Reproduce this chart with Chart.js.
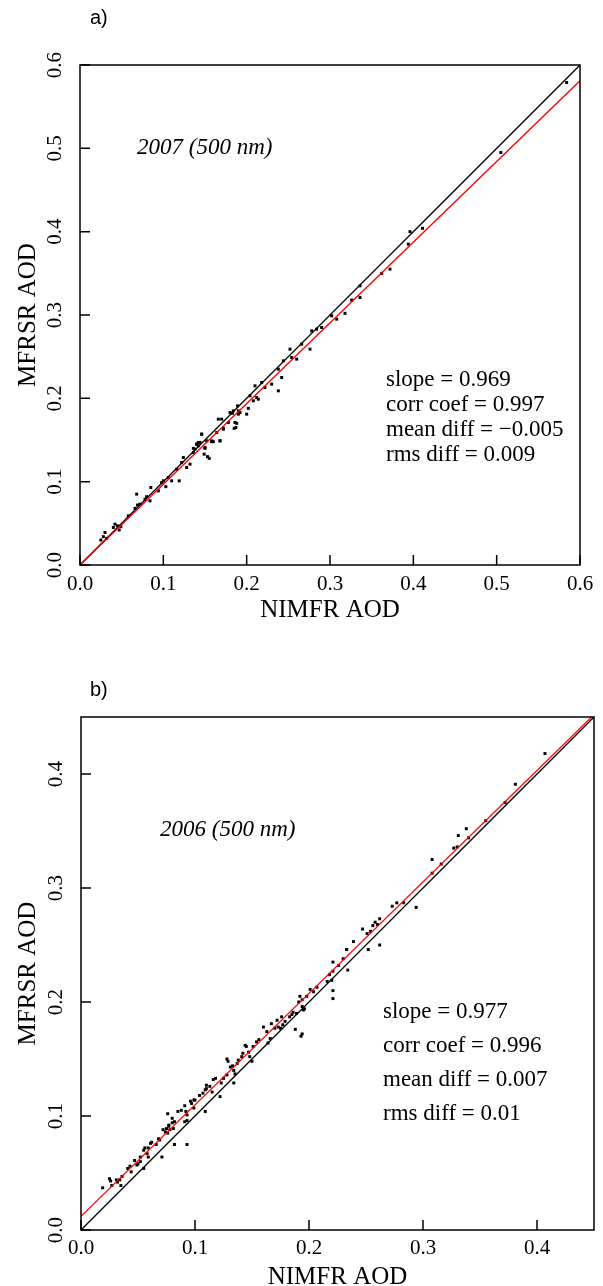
<!DOCTYPE html>
<html>
<head>
<meta charset="utf-8">
<script src="https://cdn.jsdelivr.net/npm/chart.js@4.4.1/dist/chart.umd.min.js"></script>
<style>
  html, body { margin: 0; padding: 0; background: #fff; overflow: hidden; }
  body { width: 603px; height: 1286px; position: relative; }
  canvas { position: absolute; left: 0; }
  #chartA { top: 0; }
  #chartB { top: 640px; }
</style>
</head>
<body>
<canvas id="chartA" width="603" height="650"></canvas>
<canvas id="chartB" width="603" height="660"></canvas>
<script>
// ---- panel a) 2007 (500 nm) ----
const nimfr2007 = [
    0.025, 0.028, 0.030, 0.032, 0.040, 0.042, 0.045, 0.047, 0.049, 0.058,
    0.066, 0.069, 0.072, 0.068, 0.078, 0.080, 0.084, 0.085, 0.094, 0.098,
    0.100, 0.103, 0.106, 0.110, 0.119, 0.116, 0.122, 0.124, 0.128, 0.132,
    0.136, 0.138, 0.140, 0.142, 0.146, 0.149, 0.150, 0.153, 0.155, 0.158,
    0.164, 0.168, 0.172, 0.185, 0.188, 0.183, 0.190, 0.200, 0.202, 0.166,
    0.136, 0.140, 0.142, 0.144, 0.146, 0.150, 0.152, 0.158, 0.160, 0.168,
    0.170, 0.172, 0.178, 0.180, 0.184, 0.186, 0.187, 0.189, 0.190, 0.192,
    0.204, 0.208, 0.210, 0.212, 0.214, 0.218, 0.222, 0.230, 0.238, 0.238,
    0.242, 0.244, 0.252, 0.254, 0.260, 0.266, 0.276, 0.278, 0.284, 0.290,
    0.302, 0.308, 0.318, 0.326, 0.336, 0.336, 0.362, 0.372, 0.394, 0.396,
    0.411, 0.505, 0.584
];
const mfrsr2007 = [
    0.030, 0.034, 0.039, 0.032, 0.045, 0.049, 0.047, 0.042, 0.046, 0.059,
    0.068, 0.072, 0.073, 0.085, 0.079, 0.082, 0.077, 0.093, 0.089, 0.099,
    0.101, 0.094, 0.105, 0.101, 0.101, 0.115, 0.123, 0.129, 0.117, 0.121,
    0.135, 0.139, 0.145, 0.147, 0.157, 0.133, 0.140, 0.130, 0.128, 0.148,
    0.159, 0.149, 0.164, 0.164, 0.170, 0.182, 0.185, 0.181, 0.188, 0.175,
    0.140, 0.145, 0.143, 0.147, 0.157, 0.141, 0.149, 0.149, 0.148, 0.149,
    0.175, 0.163, 0.171, 0.183, 0.185, 0.171, 0.165, 0.191, 0.181, 0.183,
    0.203, 0.197, 0.215, 0.201, 0.199, 0.219, 0.213, 0.217, 0.209, 0.235,
    0.225, 0.245, 0.259, 0.249, 0.247, 0.265, 0.259, 0.281, 0.283, 0.285,
    0.299, 0.295, 0.302, 0.318, 0.335, 0.321, 0.350, 0.355, 0.385, 0.400,
    0.404, 0.495, 0.579
];
const diag2007 = [0.0, 0.6];
const fitX2007 = [0.0, 0.6];
const fitY2007 = [0.0, 0.581];
const stats2007 = ['slope = 0.969', 'corr coef = 0.997', 'mean diff = \u22120.005', 'rms diff = 0.009'];

// ---- panel b) 2006 (500 nm) ----
const nimfr2006 = [
    0.019, 0.025, 0.026, 0.027, 0.031, 0.032, 0.034, 0.035, 0.036, 0.041,
    0.043, 0.044, 0.047, 0.049, 0.050, 0.052, 0.052, 0.055, 0.055, 0.056,
    0.058, 0.059, 0.061, 0.062, 0.059, 0.066, 0.068, 0.069, 0.071, 0.072,
    0.074, 0.075, 0.076, 0.077, 0.077, 0.078, 0.080, 0.081, 0.082, 0.076,
    0.082, 0.080, 0.091, 0.093, 0.093,
    0.085, 0.088, 0.091, 0.092, 0.093, 0.096, 0.097, 0.099, 0.099, 0.100,
    0.104, 0.107, 0.109, 0.110, 0.113, 0.115, 0.116, 0.118, 0.122, 0.123,
    0.125, 0.128, 0.128, 0.129, 0.131, 0.133, 0.134, 0.135, 0.134, 0.137,
    0.138, 0.141, 0.142, 0.144, 0.145, 0.147, 0.148, 0.150, 0.151, 0.154,
    0.156, 0.160, 0.163, 0.164, 0.166, 0.167, 0.170, 0.172, 0.173, 0.175,
    0.176, 0.177, 0.179, 0.183, 0.185, 0.186, 0.188, 0.189, 0.191, 0.192,
    0.194, 0.194, 0.195, 0.196, 0.193, 0.194, 0.198, 0.201, 0.204, 0.207,
    0.216, 0.218, 0.220, 0.221, 0.221, 0.221, 0.221, 0.226, 0.230, 0.233,
    0.234, 0.109, 0.110,
    0.233, 0.239, 0.247, 0.251, 0.252, 0.254, 0.256, 0.258, 0.260, 0.262,
    0.262, 0.273, 0.277, 0.283, 0.294, 0.308, 0.308, 0.316, 0.327, 0.330,
    0.331, 0.338, 0.340, 0.355, 0.372, 0.381, 0.407
];
const mfrsr2006 = [
    0.037, 0.045, 0.043, 0.039, 0.044, 0.042, 0.044, 0.039, 0.047, 0.054,
    0.056, 0.051, 0.061, 0.057, 0.058, 0.060, 0.064, 0.070, 0.054, 0.072,
    0.067, 0.072, 0.076, 0.077, 0.064, 0.075, 0.080, 0.079, 0.064, 0.088,
    0.086, 0.089, 0.085, 0.091, 0.092, 0.088, 0.094, 0.089, 0.095, 0.102,
    0.075, 0.098, 0.095, 0.096, 0.075,
    0.104, 0.105, 0.109, 0.104, 0.101, 0.113, 0.111, 0.114, 0.107, 0.114,
    0.118, 0.120, 0.123, 0.127, 0.126, 0.121, 0.132, 0.133, 0.117, 0.129,
    0.133, 0.136, 0.150, 0.148, 0.143, 0.144, 0.140, 0.137, 0.129, 0.146,
    0.149, 0.152, 0.155, 0.162, 0.161, 0.156, 0.152, 0.148, 0.161, 0.165,
    0.167, 0.178, 0.174, 0.164, 0.168, 0.181, 0.177, 0.184, 0.178, 0.177,
    0.187, 0.180, 0.183, 0.187, 0.189, 0.191, 0.176, 0.190, 0.200, 0.205,
    0.202, 0.196, 0.193, 0.194, 0.170, 0.172, 0.205, 0.211, 0.209, 0.213,
    0.218, 0.224, 0.219, 0.227, 0.210, 0.203, 0.235, 0.232, 0.238, 0.246,
    0.228, 0.104, 0.124,
    0.246, 0.253, 0.264, 0.260, 0.246, 0.262, 0.267, 0.270, 0.268, 0.273,
    0.250, 0.284, 0.287, 0.287, 0.283, 0.313, 0.325, 0.321, 0.335, 0.336,
    0.346, 0.352, 0.344, 0.359, 0.375, 0.391, 0.418
];
const diag2006 = [0.0, 0.45];
const fitX2006 = [0.0, 0.45];
const fitY2006 = [0.012, 0.452];
const stats2006 = ['slope = 0.977', 'corr coef = 0.996', 'mean diff = 0.007', 'rms diff = 0.01'];

const SERIF = '"Liberation Serif", "Times New Roman", serif';
const SANS = '"Liberation Sans", Arial, sans-serif';

/**
 * Box, inward ticks, rotated y tick labels and the text annotations
 */
function framePlugin(p) {
    return {
        id: 'frame',
        afterDraw(chart) {
            const { ctx, chartArea: a, scales } = chart;
            const x = scales.x;
            const y = scales.y;
            ctx.save();
            ctx.strokeStyle = '#000';
            ctx.lineWidth = 1.5;
            ctx.strokeRect(a.left, a.top, a.right - a.left, a.bottom - a.top);

            ctx.beginPath();
            x.ticks.forEach(t => {
                const px = x.getPixelForValue(t.value);
                ctx.moveTo(px, a.bottom);
                ctx.lineTo(px, a.bottom - 10);
            });
            y.ticks.forEach(t => {
                const py = y.getPixelForValue(t.value);
                ctx.moveTo(a.left, py);
                ctx.lineTo(a.left + 10, py);
            });
            ctx.stroke();

            ctx.fillStyle = '#000';
            ctx.font = '21px ' + SERIF;
            ctx.textAlign = 'center';
            ctx.textBaseline = 'middle';
            y.ticks.forEach(t => {
                ctx.save();
                ctx.translate(p.yLabelX, y.getPixelForValue(t.value));
                ctx.rotate(-Math.PI / 2);
                ctx.fillText(t.value.toFixed(1), 0, 0);
                ctx.restore();
            });

            ctx.textAlign = 'left';
            ctx.font = '20px ' + SANS;
            ctx.fillText(p.letter, p.letterPos[0], p.letterPos[1]);

            ctx.font = 'italic 23px ' + SERIF;
            ctx.fillText(p.caption, p.captionPos[0], p.captionPos[1]);

            ctx.font = '23px ' + SERIF;
            p.stats.forEach((s, i) => {
                ctx.fillText(s, p.statsPos[0], p.statsPos[1] + i * p.statsGap);
            });
            ctx.restore();
        }
    };
}

function createPanel(canvasId, p) {
    const points = p.nimfr.map((v, i) => ({ x: v, y: p.mfrsr[i] }));

    const chartData = {
        datasets: [
            {
                type: 'line',
                label: 'Fit',
                data: p.fitX.map((v, i) => ({ x: v, y: p.fitY[i] })),
                borderColor: '#ff0000',
                borderWidth: 1.3,
                pointRadius: 0,
                fill: false
            },
            {
                type: 'line',
                label: '1:1',
                data: p.diag.map(v => ({ x: v, y: v })),
                borderColor: '#000',
                borderWidth: 1.3,
                pointRadius: 0,
                fill: false
            },
            {
                label: 'AOD',
                data: points,
                backgroundColor: '#000',
                borderWidth: 0,
                pointStyle: 'rect',
                pointRadius: 2.1
            }
        ]
    };

    const tickFont = { family: SERIF, size: 21 };
    const titleFont = { family: SERIF, size: 25 };

    const options = {
        responsive: false,
        animation: false,
        layout: {
            padding: { top: p.area.top, right: 603 - p.area.right, left: 0, bottom: 0 }
        },
        plugins: {
            legend: { display: false },
            tooltip: { enabled: false }
        },
        scales: {
            x: {
                type: 'linear',
                min: 0,
                max: p.max,
                grid: { display: false, drawTicks: false },
                border: { display: false },
                ticks: {
                    stepSize: 0.1,
                    includeBounds: false,
                    autoSkip: false,
                    maxRotation: 0,
                    padding: p.xTickPad,
                    color: '#000',
                    font: tickFont,
                    callback: v => v.toFixed(1)
                },
                title: {
                    display: true,
                    text: 'NIMFR AOD',
                    color: '#000',
                    font: titleFont,
                    padding: { top: 0, bottom: p.xTitlePad }
                },
                afterFit(s) {
                    s.height = p.canvasH - p.area.bottom;
                    s.paddingLeft = 0;
                    s.paddingRight = 0;
                }
            },
            y: {
                type: 'linear',
                min: 0,
                max: p.max,
                grid: { display: false, drawTicks: false },
                border: { display: false },
                ticks: {
                    stepSize: 0.1,
                    includeBounds: false,
                    display: false
                },
                title: {
                    display: true,
                    text: 'MFRSR AOD',
                    color: '#000',
                    font: titleFont,
                    padding: { top: p.yTitlePad, bottom: 0 }
                },
                afterFit(s) {
                    s.width = p.area.left;
                    s.paddingTop = 0;
                    s.paddingBottom = 0;
                }
            }
        }
    };

    return new Chart(document.getElementById(canvasId), {
        type: 'scatter',
        data: chartData,
        options: options,
        plugins: [framePlugin(p)]
    });
}

createPanel('chartA', {
    nimfr: nimfr2007, mfrsr: mfrsr2007, diag: diag2007, fitX: fitX2007, fitY: fitY2007,
    stats: stats2007, max: 0.6,
    canvasH: 650,
    area: { left: 80, right: 580, top: 65, bottom: 565 },
    xTickPad: 7, xTitlePad: 25, yTitlePad: 13, yLabelX: 55,
    letter: 'a)', letterPos: [90, 18],
    caption: '2007 (500 nm)', captionPos: [137, 148],
    statsPos: [386, 380], statsGap: 25
});

createPanel('chartB', {
    nimfr: nimfr2006, mfrsr: mfrsr2006, diag: diag2006, fitX: fitX2006, fitY: fitY2006,
    stats: stats2006, max: 0.45,
    canvasH: 660,
    area: { left: 81, right: 594, top: 77, bottom: 590 },
    xTickPad: 6, xTitlePad: 8, yTitlePad: 13, yLabelX: 56,
    letter: 'b)', letterPos: [90, 50],
    caption: '2006 (500 nm)', captionPos: [160, 190],
    statsPos: [383, 372], statsGap: 34
});
</script>
</body>
</html>
